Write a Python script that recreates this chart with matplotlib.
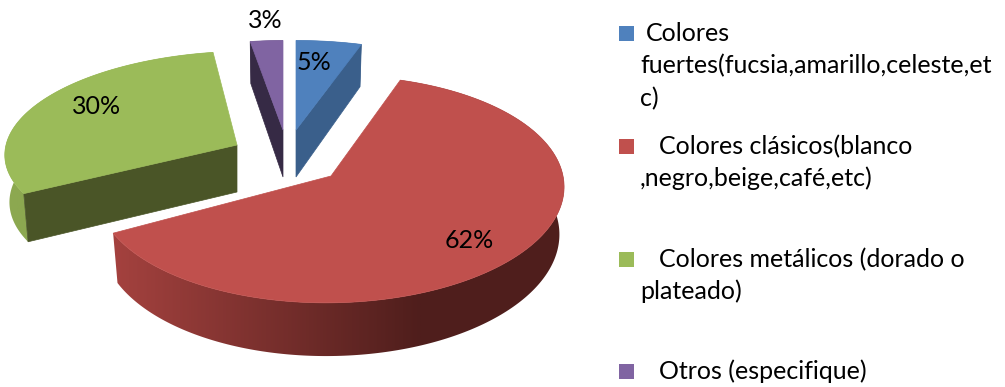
import numpy as np
import matplotlib
matplotlib.use("Agg")
import matplotlib.pyplot as plt
from matplotlib.colors import LinearSegmentedColormap
from matplotlib.patches import Polygon

# --- data ---
categories = ["Colores fuertes", "Colores clásicos", "Colores metálicos", "Otros"]
values = [5.0, 62.0, 30.4, 2.6]
legend_lines = [
    [" Colores", "fuertes(fucsia,amarillo,celeste,et", "c)"],
    ["   Colores clásicos(blanco", ",negro,beige,café,etc)"],
    ["   Colores metálicos (dorado o", "plateado)"],
    ["   Otros (especifique)"],
]

# --- styles / layout (pixels) ---
top_colors = ["#4F81BD", "#C0504D", "#9BBB59", "#8064A2"]
cut_colors = ["#3A5F8B", "#8E3B39", "#4A5527", "#362A45"]
rim_left = ["#3A5F8B", "#A5423F", "#8CA850", "#362A45"]
rim_right = ["#3A5F8B", "#4F1E1C", "#8CA850", "#362A45"]
apex = [(296, 130), (331, 176), (237, 145), (283, 130)]
Rx = [235, 232, 231, 225]
Ry = [100, 112, 98.5, 100]
K = [0.117, 0.117, 0.05, 0.117]
shear = [0, 5, 12, 0]
DEPTH = 47
BOTTOM_SCALE = 0.98
cut_side = ["end", None, "start", "start"]   # which straight face is visible
label_pos = [(314, 63), (469, 240), (97, 106), (265, 20)]
legend_box_y = [26, 139, 252, 364]
legend_baselines = [[41, 73, 106], [154, 186], [267, 299], [379]]
legend_x0 = [646, 659, 659, 659]

plt.rcParams["font.family"] = ["Lato", "DejaVu Sans"]
fig = plt.figure(figsize=(10.05, 3.87), dpi=100)
ax = fig.add_axes([0, 0, 1, 1])
ax.set_xlim(0, 1005)
ax.set_ylim(387, 0)
ax.axis("off")


def project(i, theta):
    u, v = np.sin(theta), np.cos(theta)
    w = 1 + K[i] * v
    x = apex[i][0] + Rx[i] * u / w + shear[i] * v
    y = apex[i][1] - Ry[i] * v / w
    return x, y, DEPTH / w


fractions = np.array(values) / sum(values)
edges = np.concatenate([[0], np.cumsum(fractions)]) * 2 * np.pi
order = [2, 3, 0, 1]

for i in order:
    z = 2 + order.index(i) * 3
    th = np.linspace(edges[i], edges[i + 1], 240)
    x, y, d = project(i, th)
    ax0, ay0 = apex[i]
    xb = ax0 + (x - ax0) * BOTTOM_SCALE
    # rim, filled with a horizontal gradient clipped to its outline
    rim = Polygon(np.c_[np.r_[x, xb[::-1]], np.r_[y, (y + d)[::-1]]], closed=True,
                  transform=ax.transData, facecolor="none", edgecolor="none")
    ax.add_patch(rim)
    cmap = LinearSegmentedColormap.from_list("rim", [rim_left[i], rim_right[i]])
    x_lo, x_hi = ax0 - 220, ax0 + 90
    img = ax.imshow(np.linspace(0, 1, 256)[None, :], cmap=cmap, aspect="auto",
                    extent=(x_lo, x_hi, 387, 0), zorder=z)
    img.set_clip_path(rim)
    # the gradient clamps outside its range
    lo = ax.fill_betweenx([0, 387], -5, x_lo, color=rim_left[i], lw=0, zorder=z)
    hi = ax.fill_betweenx([0, 387], x_hi, 1010, color=rim_right[i], lw=0, zorder=z)
    lo.set_clip_path(rim)
    hi.set_clip_path(rim)
    # straight cut face
    if cut_side[i]:
        k = -1 if cut_side[i] == "end" else 0
        ax.fill([ax0, x[k], xb[k], ax0],
                [ay0, y[k], y[k] + d[k], ay0 + DEPTH],
                facecolor=cut_colors[i], edgecolor=cut_colors[i], linewidth=0.5,
                zorder=z + 1)
    # top face
    ax.fill(np.r_[ax0, x], np.r_[ay0, y], facecolor=top_colors[i],
            edgecolor=top_colors[i], linewidth=0.5, zorder=z + 2)

for i, (lx, ly) in enumerate(label_pos):
    ax.text(lx, ly, f"{round(values[i])}%", fontsize=18, color="black",
            ha="center", va="center", zorder=30)

for i, lines in enumerate(legend_lines):
    yb = legend_box_y[i]
    ax.fill([619, 634, 634, 619], [yb, yb, yb + 15, yb + 15],
            facecolor=top_colors[i], edgecolor="none")
    for n, line in enumerate(lines):
        ax.text(legend_x0[i] if n == 0 else 640, legend_baselines[i][n], line.strip(),
                fontsize=18, color="black", ha="left", va="baseline")

ax.set_xlim(0, 1005)
ax.set_ylim(387, 0)
fig.savefig("out.png", dpi=100, facecolor="white")
